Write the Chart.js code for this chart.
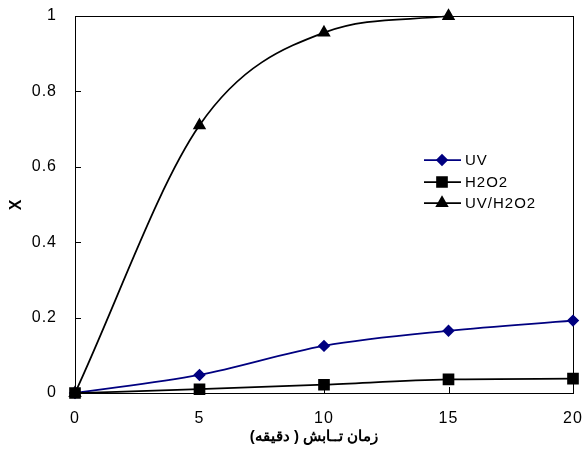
<!DOCTYPE html>
<html>
<head>
<meta charset="utf-8">
<script src="https://cdn.jsdelivr.net/npm/chart.js@4/dist/chart.umd.min.js"></script>
<style>
html, body { margin: 0; padding: 0; background: #fff; }
#wrap { width: 583px; height: 455px; }
</style>
</head>
<body>
<div id="wrap"><canvas id="myChart" width="583" height="455"></canvas></div>
<script>
// irradiation time (min) and conversion X
const times = [0, 5, 10, 15, 20];
const uvValues = [0, 0.048, 0.125, 0.165, 0.192];
const h2o2Values = [0, 0.01, 0.022, 0.036, 0.038];
const uvH2o2Values = [0, 0.71, 0.956, 1.0];
const xTicks = [0, 5, 10, 15, 20];
const yTicks = [0, 0.2, 0.4, 0.6, 0.8, 1];
const seriesNames = ['UV', 'H2O2', 'UV/H2O2'];
const xTitle = 'زمان تــابش ( دقيقه)';
const yTitle = 'X';

const FONT = '"Liberation Sans", Arial, sans-serif';

function toPoints(vals) {
    return vals.map((v, i) => ({x: times[i], y: v}));
}

// frame, inner tick marks, x title (right-to-left) and the legend inside the plot
const framePlugin = {
    id: 'frame',
    beforeDraw(chart) {
        chart.ctx.letterSpacing = '1px';
    },
    beforeDatasetsDraw(chart) {
        const {ctx, chartArea: a, scales} = chart;
        ctx.save();
        ctx.strokeStyle = '#000';
        ctx.lineWidth = 1;
        ctx.strokeRect(a.left + 0.5, a.top + 0.5, a.right - a.left, a.bottom - a.top);
        ctx.beginPath();
        scales.x.ticks.forEach(t => {
            const px = Math.round(scales.x.getPixelForValue(t.value)) + 0.5;
            ctx.moveTo(px, a.bottom);
            ctx.lineTo(px, a.bottom - 6);
        });
        scales.y.ticks.forEach(t => {
            const py = Math.round(scales.y.getPixelForValue(t.value)) + 0.5;
            ctx.moveTo(a.left, py);
            ctx.lineTo(a.left + 6, py);
        });
        ctx.stroke();
        ctx.restore();
    },
    afterDraw(chart) {
        const ctx = chart.ctx;
        const a = chart.chartArea;
        ctx.save();

        // x axis title, persian text laid out right to left
        ctx.letterSpacing = '0px';
        ctx.direction = 'rtl';
        ctx.font = 'bold 15px ' + FONT;
        ctx.fillStyle = '#000';
        ctx.textBaseline = 'middle';
        ctx.textAlign = 'center';
        ctx.fillText(xTitle, (a.left + a.right) / 2 - 10, 437);
        ctx.direction = 'ltr';

        // legend
        const rows = [160, 182, 203];
        ctx.letterSpacing = '1px';
        chart.data.datasets.forEach((ds, i) => {
            const y = rows[i];
            ctx.strokeStyle = ds.borderColor;
            ctx.lineWidth = ds.borderWidth;
            ctx.beginPath();
            ctx.moveTo(424, y);
            ctx.lineTo(461, y);
            ctx.stroke();
            ctx.fillStyle = ds.pointBackgroundColor;
            ctx.strokeStyle = ds.pointBorderColor;
            Chart.helpers.drawPoint(ctx, {
                pointStyle: ds.pointStyle,
                radius: ds.pointRadius,
                borderWidth: 1,
                rotation: 0
            }, 442, y);
            ctx.fillStyle = '#000';
            ctx.font = '15px ' + FONT;
            ctx.textAlign = 'left';
            ctx.textBaseline = 'middle';
            ctx.fillText(ds.label, 465, y + 1);
        });
        ctx.restore();
    }
};

const ctx = document.getElementById('myChart').getContext('2d');

const data = {
    datasets: [{
        label: seriesNames[0],
        data: toPoints(uvValues),
        borderColor: '#000080',
        backgroundColor: '#000080',
        pointBackgroundColor: '#000080',
        pointBorderColor: '#000080',
        borderWidth: 1.75,
        pointStyle: 'rectRot',
        pointRadius: 5,
        cubicInterpolationMode: 'monotone',
        order: 1,
        clip: false
    }, {
        label: seriesNames[1],
        data: toPoints(h2o2Values),
        borderColor: '#000',
        backgroundColor: '#000',
        pointBackgroundColor: '#000',
        pointBorderColor: '#000',
        borderWidth: 1.75,
        pointStyle: 'rect',
        pointRadius: 7,
        cubicInterpolationMode: 'monotone',
        order: 0,
        clip: false
    }, {
        label: seriesNames[2],
        data: toPoints(uvH2o2Values),
        borderColor: '#000',
        backgroundColor: '#000',
        pointBackgroundColor: '#000',
        pointBorderColor: '#000',
        borderWidth: 1.75,
        pointStyle: 'triangle',
        pointRadius: 6,
        cubicInterpolationMode: 'monotone',
        order: 2,
        clip: false
    }]
};

const config = {
    type: 'line',
    data: data,
    options: {
        responsive: false,
        animation: false,
        events: [],
        layout: {
            padding: {top: 16, right: 10, bottom: 0, left: 0}
        },
        plugins: {
            legend: {display: false},
            tooltip: {enabled: false}
        },
        scales: {
            x: {
                type: 'linear',
                min: 0,
                max: 20,
                afterBuildTicks: s => { s.ticks = xTicks.map(v => ({value: v})); },
                afterFit: s => { s.height = 62; s.paddingLeft = 0; s.paddingRight = 0; },
                grid: {display: false, drawTicks: false},
                border: {display: false},
                ticks: {
                    color: '#000',
                    padding: 16,
                    maxRotation: 0,
                    font: {family: FONT, size: 16}
                }
            },
            y: {
                type: 'linear',
                min: 0,
                max: 1,
                afterBuildTicks: s => { s.ticks = yTicks.map(v => ({value: v})); },
                afterFit: s => { s.width = 75; s.paddingTop = 0; s.paddingBottom = 0; },
                grid: {display: false, drawTicks: false},
                border: {display: false},
                ticks: {
                    color: '#000',
                    padding: 18,
                    font: {family: FONT, size: 16},
                    callback: v => String(v)
                },
                title: {
                    display: true,
                    text: yTitle,
                    color: '#000',
                    padding: {top: 7, bottom: 0},
                    font: {family: FONT, size: 16, weight: 'bold'}
                }
            }
        }
    },
    plugins: [framePlugin]
};

const conversionChart = new Chart(ctx, config);
</script>
</body>
</html>
